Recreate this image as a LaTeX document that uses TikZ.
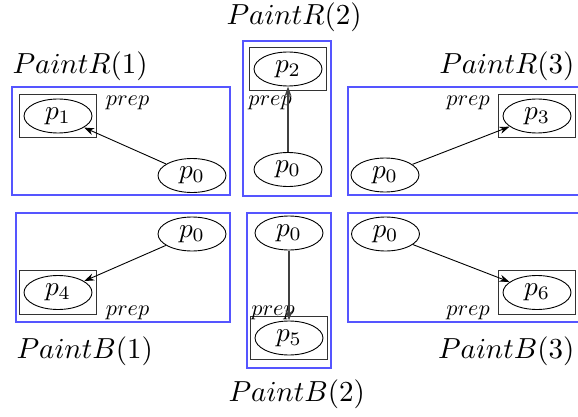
\documentclass[tikz,border=0pt]{standalone}
\usetikzlibrary{arrows.meta,fit,shapes.geometric}
\definecolor{boxblue}{RGB}{85,85,255}
\tikzset{
  region/.style={draw=boxblue, line width=0.65pt, inner sep=0pt},
  state/.style={draw, ellipse, minimum width=24.9pt, minimum height=12.45pt, inner sep=0pt,
    line width=0.45pt, scale=1.365},
  prepbox/.style={draw=black!80, line width=0.6pt, inner sep=2pt},
  preplabel/.style={scale=1.11, inner sep=0pt, anchor=base west},
  title/.style={scale=1.45, inner sep=0pt},
  edge/.style={-{Stealth[length=5pt,width=3.6pt]}, line width=0.45pt},
  vedge/.style={edge, draw=black!75, line width=0.7pt}
}
\begin{document}
\begin{tikzpicture}[x=0.5pt, y=-0.5pt]
\useasboundingbox (0,0) rectangle (578,417);

% ---- PaintR(1)
\node[region, fit={(12,87) (230,195)}] (R1) {};
\node[state] (r1p1) at (58,116) {$p_1$};
\node[state] (r1p0) at (192,175.5) {$p_0$};
\node[prepbox, fit=(r1p1)] (r1b) {};
\node[preplabel] (r1l) at (105.5,105) {$prep$};
\draw[edge] (r1p0) -- (r1p1);
\node[title, anchor=base west] (t1) at (12,74) {$PaintR(1)$};

% ---- PaintR(2)
\node[region, fit={(243,41) (331,196)}] (R2) {};
\node[state] (r2p2) at (288,69) {$p_2$};
\node[state] (r2p0) at (288,169.5) {$p_0$};
\node[prepbox, fit=(r2p2)] (r2b) {};
\node[preplabel] (r2l) at (248,105.5) {$prep$};
\draw[vedge] (r2p0) -- (r2p2);
\node[title, anchor=base west] (t2) at (226,25) {$PaintR(2)$};

% ---- PaintR(3)
\node[region, fit={(348,87) (600,195)}] (R3) {};
\node[state] (r3p3) at (537,116) {$p_3$};
\node[state] (r3p0) at (385,175) {$p_0$};
\node[prepbox, fit=(r3p3)] (r3b) {};
\node[preplabel] (r3l) at (446,105) {$prep$};
\draw[edge] (r3p0) -- (r3p3);
\node[title, anchor=base east] (t3) at (575,74) {$PaintR(3)$};

% ---- PaintB(1)
\node[region, fit={(16,213) (230,322)}] (B1) {};
\node[state] (b1p0) at (192,234) {$p_0$};
\node[state] (b1p4) at (58,292.5) {$p_4$};
\node[prepbox, fit=(b1p4)] (b1b) {};
\node[preplabel] (b1l) at (105.5,315) {$prep$};
\draw[edge] (b1p0) -- (b1p4);
\node[title, anchor=base west] (t4) at (16,358) {$PaintB(1)$};

% ---- PaintB(2)
\node[region, fit={(247,213) (331,368)}] (B2) {};
\node[state] (b2p0) at (289,233) {$p_0$};
\node[state] (b2p5) at (289,338) {$p_5$};
\node[prepbox, fit=(b2p5)] (b2b) {};
\node[preplabel] (b2l) at (251,315) {$prep$};
\draw[vedge] (b2p0) -- (b2p5);
\node[title, anchor=base west] (t5) at (228,401) {$PaintB(2)$};

% ---- PaintB(3)
\node[region, fit={(348,213) (600,322)}] (B3) {};
\node[state] (b3p0) at (385.5,234) {$p_0$};
\node[state] (b3p6) at (537,292.5) {$p_6$};
\node[prepbox, fit=(b3p6)] (b3b) {};
\node[preplabel] (b3l) at (446,315) {$prep$};
\draw[edge] (b3p0) -- (b3p6);
\node[title, anchor=base east] (t6) at (575,358) {$PaintB(3)$};
\end{tikzpicture}
\end{document}
